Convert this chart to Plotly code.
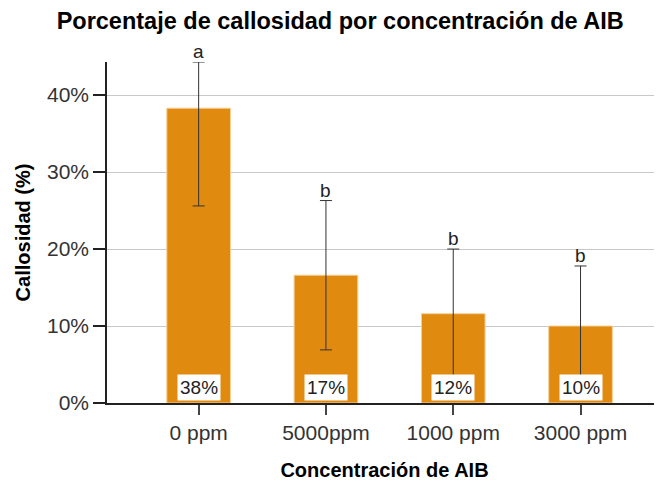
import plotly.graph_objects as go

categories = ["0 ppm", "5000ppm", "1000 ppm", "3000 ppm"]
callosidad = [38.3, 16.6, 11.6, 10.0]
ci_upper = [44.3, 26.3, 20.0, 17.8]
ci_lower = [25.6, 6.9, 3.3, 2.4]
letters = ["a", "b", "b", "b"]
y_ticks = [0, 10, 20, 30, 40]

err_plus = [u - v for u, v in zip(ci_upper, callosidad)]
err_minus = [v - l for v, l in zip(callosidad, ci_lower)]

FONT = "Liberation Sans, Arial, sans-serif"

fig = go.Figure()
fig.add_trace(go.Bar(
    x=categories, y=callosidad, width=0.5,
    marker=dict(color="#E08A10", line=dict(color="#F6CF95", width=1)),
    error_y=dict(type="data", symmetric=False, array=err_plus, arrayminus=err_minus,
                 color="#333333", thickness=1, width=6),
    hoverinfo="skip",
))

annotations = []
for c, v, u, l in zip(categories, callosidad, ci_upper, letters):
    annotations.append(dict(x=c, y=u, text=l, showarrow=False, yanchor="bottom",
                            yshift=-2, font=dict(family=FONT, size=19, color="#222222")))
    annotations.append(dict(x=c, y=0, text=f"{round(v)}%", showarrow=False, yanchor="bottom",
                            yshift=2, bgcolor="white", borderpad=2,
                            font=dict(family=FONT, size=19, color="#222222")))

fig.update_layout(
    width=654, height=473,
    margin=dict(l=99, r=0, t=54, b=78),
    plot_bgcolor="white", paper_bgcolor="white",
    showlegend=False,
    title=dict(text="<b>Porcentaje de callosidad por concentración de AIB</b>",
               x=0.508, xanchor="center", y=0.972, yanchor="middle",
               font=dict(family=FONT, size=23.5, color="black")),
    annotations=annotations,
    xaxis=dict(range=[-0.72, 3.64], showline=True, linecolor="#222222", linewidth=1.5,
               ticks="outside", ticklen=10, tickcolor="#444444", tickwidth=1.5,
               tickfont=dict(family=FONT, size=21, color="#333333"),
               title=dict(text="<b>Concentración de AIB</b>", standoff=20,
                          font=dict(family=FONT, size=20, color="black")),
               showgrid=False),
    yaxis=dict(range=[0, 44.3], tickvals=y_ticks, ticktext=[f"{t}%" for t in y_ticks],
               showline=True, linecolor="#222222", linewidth=1.5, ticks="outside",
               ticklen=12, tickcolor="#222222", tickwidth=1.5,
               tickfont=dict(family=FONT, size=21, color="#333333"),
               showgrid=True, gridcolor="#C8C8C8", gridwidth=1, zeroline=False,
               title=dict(text="<b>Callosidad (%)</b>", standoff=11,
                          font=dict(family=FONT, size=20, color="black"))),
)

fig.write_html("out.html")
